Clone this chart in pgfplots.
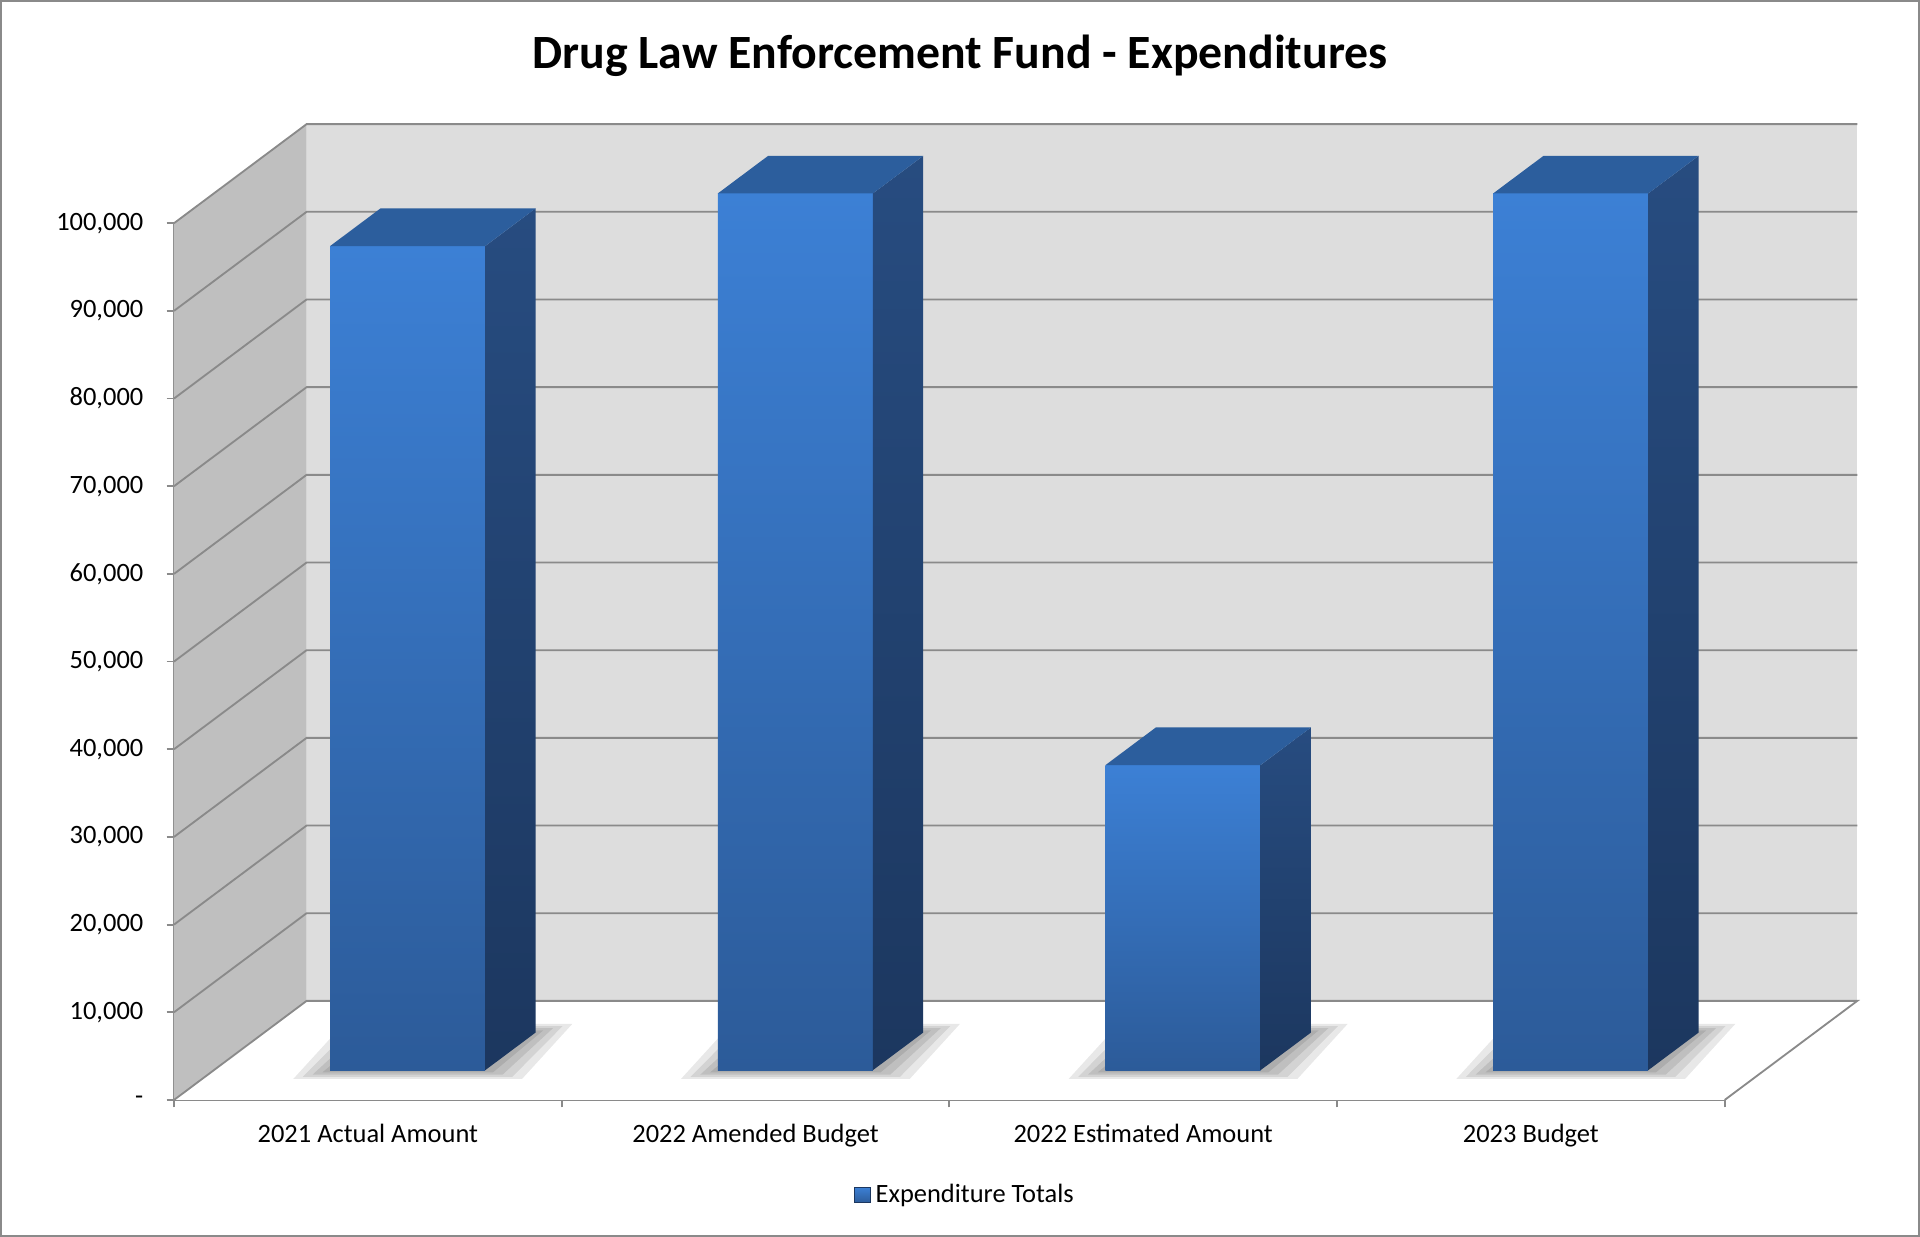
\documentclass[border=0pt]{standalone}
\usepackage{fontspec}
\setmainfont{Carlito}
\usepackage{pgfplots}
\pgfplotsset{compat=1.18}
\definecolor{backwall}{HTML}{DDDDDD}
\definecolor{leftwall}{HTML}{BFBFBF}
\definecolor{edge}{HTML}{8A8A8A}
\definecolor{fronttop}{HTML}{3C80D5}
\definecolor{frontbot}{HTML}{2C5B99}
\definecolor{topface}{HTML}{2C5E9D}
\definecolor{sidetop}{HTML}{274C80}
\definecolor{sidebot}{HTML}{1C375F}
\pgfplotsset{shadow/.style={forget plot, draw=none, fill=black, fill opacity=0.09}}
\begin{document}
\begin{tikzpicture}
\useasboundingbox (-71.05pt,-55.85pt) rectangle (712.95pt,449.15pt);
\begin{axis}[
  scale only axis, width=633.2pt, height=358pt,
  xmin=-0.5, xmax=3.5, ymin=0, ymax=100000,
  clip=false,
  axis x line*=bottom, axis y line*=left,
  axis line style={draw=edge, line width=0.75pt},
  tick style={draw=edge, line width=0.75pt},
  tick align=outside,
  major tick length=3pt,
  xtick={-0.5,0.5,1.5,2.5,3.5}, xticklabels={},
  extra x ticks={0,1,2,3},
  extra x tick labels={2021 Actual Amount, 2022 Amended Budget, 2022 Estimated Amount, 2023 Budget},
  extra x tick style={major tick length=0pt, tick label style={anchor=base, yshift=-17.5pt}},
  ytick={0,10000,20000,30000,40000,50000,60000,70000,80000,90000,100000},
  yticklabels={-,{10,000},{20,000},{30,000},{40,000},{50,000},{60,000},{70,000},{80,000},{90,000},{100,000}},
  scaled y ticks=false,
  tick label style={font=\fontsize{10.8}{13}\selectfont, text=black},
  yticklabel style={xshift=-6pt},
  title={Drug Law Enforcement Fund - Expenditures},
  title style={at={(0.5069,1.1737)}, anchor=center, font=\bfseries\fontsize{19.5}{23}\selectfont},
  legend style={at={(0.511,-0.1085)}, anchor=center, draw=none, fill=none,
    font=\fontsize{10.8}{13}\selectfont, inner sep=0pt},
  legend image code/.code={\draw[draw=sidebot, line width=0.4pt, top color=fronttop, bottom color=frontbot] (0pt,-3.2pt) rectangle (6.4pt,3.2pt);},
]
\addlegendimage{}
\addlegendentry{Expenditure Totals}
% walls and floor
\addplot[forget plot, draw=none, fill=leftwall] coordinates {(-0.5,0) (-0.158,11300) (-0.158,111300) (-0.5,100000)} -- cycle;
\addplot[forget plot, draw=none, fill=backwall] coordinates {(-0.158,11300) (3.842,11300) (3.842,111300) (-0.158,111300)} -- cycle;
\addplot[forget plot, draw=none, fill=white] coordinates {(-0.5,0) (3.5,0) (3.842,11300) (-0.158,11300)} -- cycle;
% gridlines
\addplot[forget plot, edge, line width=0.75pt] coordinates {(-0.5,0) (-0.158,11300) (3.842,11300) (3.5,0)};
\addplot[forget plot, edge, line width=0.75pt] coordinates {(-0.5,10000) (-0.158,21300) (3.842,21300)};
\addplot[forget plot, edge, line width=0.75pt] coordinates {(-0.5,20000) (-0.158,31300) (3.842,31300)};
\addplot[forget plot, edge, line width=0.75pt] coordinates {(-0.5,30000) (-0.158,41300) (3.842,41300)};
\addplot[forget plot, edge, line width=0.75pt] coordinates {(-0.5,40000) (-0.158,51300) (3.842,51300)};
\addplot[forget plot, edge, line width=0.75pt] coordinates {(-0.5,50000) (-0.158,61300) (3.842,61300)};
\addplot[forget plot, edge, line width=0.75pt] coordinates {(-0.5,60000) (-0.158,71300) (3.842,71300)};
\addplot[forget plot, edge, line width=0.75pt] coordinates {(-0.5,70000) (-0.158,81300) (3.842,81300)};
\addplot[forget plot, edge, line width=0.75pt] coordinates {(-0.5,80000) (-0.158,91300) (3.842,91300)};
\addplot[forget plot, edge, line width=0.75pt] coordinates {(-0.5,90000) (-0.158,101300) (3.842,101300)};
\addplot[forget plot, edge, line width=0.75pt] coordinates {(-0.5,100000) (-0.158,111300) (3.842,111300)};
% soft shadows under the bars
\addplot[shadow] coordinates {(-0.1174,3140) (0.3226,3140) (0.4526,7934) (0.0126,7934)} -- cycle;
\addplot[shadow] coordinates {(-0.1424,2890) (0.3476,2890) (0.4776,8184) (-0.0124,8184)} -- cycle;
\addplot[shadow] coordinates {(-0.1674,2640) (0.3726,2640) (0.5026,8434) (-0.0374,8434)} -- cycle;
\addplot[shadow] coordinates {(-0.1924,2390) (0.3976,2390) (0.5276,8684) (-0.0624,8684)} -- cycle;
\addplot[shadow] coordinates {(0.8826,3140) (1.3226,3140) (1.4526,7934) (1.0126,7934)} -- cycle;
\addplot[shadow] coordinates {(0.8576,2890) (1.3476,2890) (1.4776,8184) (0.9876,8184)} -- cycle;
\addplot[shadow] coordinates {(0.8326,2640) (1.3726,2640) (1.5026,8434) (0.9626,8434)} -- cycle;
\addplot[shadow] coordinates {(0.8076,2390) (1.3976,2390) (1.5276,8684) (0.9376,8684)} -- cycle;
\addplot[shadow] coordinates {(1.8826,3140) (2.3226,3140) (2.4526,7934) (2.0126,7934)} -- cycle;
\addplot[shadow] coordinates {(1.8576,2890) (2.3476,2890) (2.4776,8184) (1.9876,8184)} -- cycle;
\addplot[shadow] coordinates {(1.8326,2640) (2.3726,2640) (2.5026,8434) (1.9626,8434)} -- cycle;
\addplot[shadow] coordinates {(1.8076,2390) (2.3976,2390) (2.5276,8684) (1.9376,8684)} -- cycle;
\addplot[shadow] coordinates {(2.8826,3140) (3.3226,3140) (3.4526,7934) (3.0126,7934)} -- cycle;
\addplot[shadow] coordinates {(2.8576,2890) (3.3476,2890) (3.4776,8184) (2.9876,8184)} -- cycle;
\addplot[shadow] coordinates {(2.8326,2640) (3.3726,2640) (3.5026,8434) (2.9626,8434)} -- cycle;
\addplot[shadow] coordinates {(2.8076,2390) (3.3976,2390) (3.5276,8684) (2.9376,8684)} -- cycle;
% bar 1: 94000
\addplot[forget plot, draw=none, top color=fronttop, bottom color=frontbot] coordinates {(-0.0974,3390) (0.3026,3390) (0.3026,97390) (-0.0974,97390)} -- cycle;
\addplot[forget plot, draw=none, top color=sidetop, bottom color=sidebot] coordinates {(0.3026,3390) (0.4326,7684) (0.4326,101684) (0.3026,97390)} -- cycle;
\addplot[forget plot, draw=none, fill=topface] coordinates {(-0.0974,97390) (0.3026,97390) (0.4326,101684) (0.0326,101684)} -- cycle;
% bar 2: 100000
\addplot[forget plot, draw=none, top color=fronttop, bottom color=frontbot] coordinates {(0.9026,3390) (1.3026,3390) (1.3026,103390) (0.9026,103390)} -- cycle;
\addplot[forget plot, draw=none, top color=sidetop, bottom color=sidebot] coordinates {(1.3026,3390) (1.4326,7684) (1.4326,107684) (1.3026,103390)} -- cycle;
\addplot[forget plot, draw=none, fill=topface] coordinates {(0.9026,103390) (1.3026,103390) (1.4326,107684) (1.0326,107684)} -- cycle;
% bar 3: 34800
\addplot[forget plot, draw=none, top color=fronttop, bottom color=frontbot] coordinates {(1.9026,3390) (2.3026,3390) (2.3026,38190) (1.9026,38190)} -- cycle;
\addplot[forget plot, draw=none, top color=sidetop, bottom color=sidebot] coordinates {(2.3026,3390) (2.4326,7684) (2.4326,42484) (2.3026,38190)} -- cycle;
\addplot[forget plot, draw=none, fill=topface] coordinates {(1.9026,38190) (2.3026,38190) (2.4326,42484) (2.0326,42484)} -- cycle;
% bar 4: 100000
\addplot[forget plot, draw=none, top color=fronttop, bottom color=frontbot] coordinates {(2.9026,3390) (3.3026,3390) (3.3026,103390) (2.9026,103390)} -- cycle;
\addplot[forget plot, draw=none, top color=sidetop, bottom color=sidebot] coordinates {(3.3026,3390) (3.4326,7684) (3.4326,107684) (3.3026,103390)} -- cycle;
\addplot[forget plot, draw=none, fill=topface] coordinates {(2.9026,103390) (3.3026,103390) (3.4326,107684) (3.0326,107684)} -- cycle;
\end{axis}
\draw[edge, line width=0.75pt] (-70.675pt,-55.475pt) rectangle (712.575pt,448.775pt);
\end{tikzpicture}
\end{document}
